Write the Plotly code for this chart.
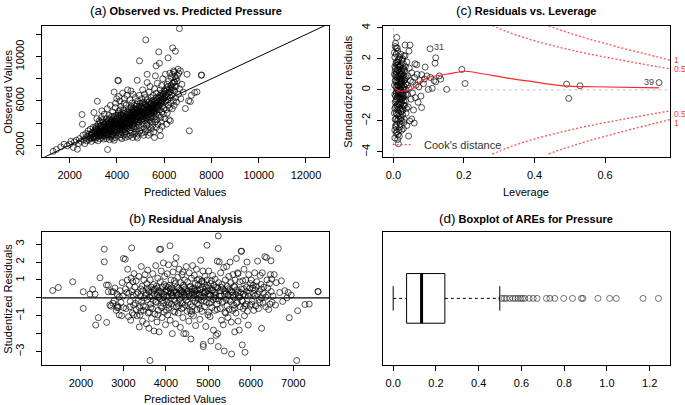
import plotly.graph_objects as go

FONT = "Liberation Sans, Arial, Helvetica, sans-serif"
W, H = 685, 405

# ---------------- Panel (a): Observed vs. Predicted (predicted, observed) ----------------
obs_pred_pairs = [
    (1300,1450),(1440,1620),(1620,1850),(1760,2090),(1900,1950),(2000,2090),(2050,2350),(2150,1800),
    (2200,2300),(2283,2452),(2325,1639),(2380,2150),(2420,2600),(2480,2350),(2520,4770),(2536,3895),
    (2560,2900),(2600,2500),(2640,2150),(2680,3050),(2700,2700),(2720,2400),
    (2760,2800),(2780,3300),(2800,2500),(2820,3000),(2850,2700),(2870,3450),(2900,2900),(2920,2350),
    (2950,3150),(2970,2650),(2990,3600),(3026,4951),(3000,2750),(2940,3050),(2880,2600),
    (3050,2900),(3060,3300),(3080,2500),(3100,3700),(3120,3000),(3140,2700),(3168,5971),(3160,3400),
    (3180,3100),(3200,2400),(3210,3900),(3230,2850),(3240,3250),(3250,4200),(3100,3500),(3150,4400),
    (3220,3550),(3070,3150),
    (3270,2600),(3280,3050),(3300,3400),(3310,2900),(3320,3800),(3340,4500),(3350,3200),(3360,2700),
    (3380,3600),(3400,4100),(3410,3000),(3420,3350),(3440,2550),(3450,3900),(3460,4800),(3470,3150),
    (3480,2800),(3490,3500),(3300,4100),(3360,5100),(3430,3700),(3380,4300),
    (3510,3250),(3520,4000),(3530,2900),(3540,3600),(3550,4400),(3560,2600),(3570,3100),(3580,3800),
    (3590,5300),(3604,1612),(3600,3450),(3620,4200),(3630,2800),(3640,3700),(3650,3300),(3660,4700),
    (3670,3000),(3680,3950),(3690,2500),(3700,3550),(3710,4300),(3720,5600),(3730,3200),(3740,3850),
    (3750,2750),
    (3760,3400),(3770,4100),(3780,4600),(3790,3000),(3800,3700),(3810,2600),(3820,5000),(3830,3300),
    (3840,3900),(3850,4400),(3860,2900),(3870,3550),(3880,6800),(3890,4200),(3900,3150),(3910,3800),
    (3920,5400),(3930,2700),(3940,4000),(3950,3450),(3960,4700),(3970,3100),(3980,3650),(3990,6200),
    (3800,4250),(3880,2450),(3940,5800),(3850,3200),
    (4010,3900),(4020,3300),(4038,7866),(4060,7820),(4030,4500),(4060,2900),(4070,3600),(4080,5100),
    (4090,4200),(4100,3100),(4110,3750),(4120,6000),(4130,4400),(4140,2700),(4150,3450),(4160,4800),
    (4170,3950),(4180,5500),(4190,3200),(4200,4100),(4210,2600),(4220,3700),(4230,4600),(4240,6700),
    (4250,3350),(4060,4700),(4140,5200),(4200,3850),(4080,6400),(4170,2950),
    (4260,4300),(4270,3800),(4280,5200),(4290,2900),(4300,4000),(4310,3500),(4320,6200),(4330,4600),
    (4340,3200),(4350,4900),(4360,2700),(4370,3900),(4380,5600),(4390,4200),(4400,3600),(4410,4500),
    (4420,3000),(4430,5000),(4440,4100),(4450,7000),(4460,3700),(4470,4700),(4480,2800),(4490,5300),
    (4500,4300),(4300,5800),(4350,3400),(4420,6500),(4460,4000),(4280,4550),
    (4510,3900),(4520,5000),(4530,3300),(4540,4600),(4550,6100),(4560,2900),(4570,4200),(4580,5400),
    (4590,3600),(4600,4800),(4610,3100),(4620,4400),(4630,5800),(4640,3800),(4650,5100),(4660,2700),
    (4670,4500),(4680,6600),(4690,4000),(4700,5300),(4710,3500),(4720,4700),(4730,3000),(4740,5600),
    (4750,4300),(4550,4000),(4600,5500),(4650,4200),(4700,3700),(4590,6900),
    (4760,5000),(4770,3700),(4780,6300),(4790,4400),(4800,3200),(4810,5200),(4820,4600),(4830,2800),
    (4840,5700),(4857,7866),(4850,4100),(4860,3500),(4870,4900),(4880,6000),(4890,4300),(4900,3000),
    (4910,5400),(4920,4700),(4930,3800),(4940,6500),(4954,9617),(4950,4500),(4960,5100),(4970,3300),
    (4980,5800),(4990,4200),(4800,5500),(4870,2650),(4930,5000),(4780,4800),
    (5010,4800),(5020,3600),(5030,5500),(5040,4300),(5050,6200),(5060,3100),(5070,5000),(5080,4600),
    (5090,7000),(5100,3900),(5110,5300),(5120,4400),(5130,2900),(5140,5900),(5150,4900),(5160,3500),
    (5170,6600),(5180,4200),(5190,5100),(5200,3200),(5220,11513),(5230,5600),(5240,4500),(5250,3800),
    (5278,8408),(5278,7660),(5060,5800),(5200,6300),
    (5260,5000),(5270,4000),(5290,6100),(5300,3400),(5310,5400),(5320,4700),(5330,2900),(5340,5900),
    (5350,4300),(5360,6800),(5370,3700),(5380,5200),(5390,4500),(5400,7300),(5410,3100),(5420,5700),
    (5430,4900),(5440,6300),(5450,4100),(5460,3500),(5470,5300),(5480,4700),(5490,6000),(5350,5000),
    (5450,5500),
    (5510,5100),(5520,3800),(5530,6500),(5540,4400),(5550,5600),(5560,3200),(5570,4900),(5586,2695),
    (5590,7100),(5600,5300),(5610,4100),(5620,6000),(5628,8263),(5640,4600),(5650,5500),(5658,9166),
    (5660,3600),(5670,6700),(5680,4900),(5690,5800),(5700,4300),(5710,7600),(5720,5200),(5730,3900),
    (5740,6300),
    (5760,5500),(5770,10430),(5780,4700),(5798,9400),(5800,6000),(5810,3400),(5820,5200),(5830,7000),
    (5840,2848),(5850,4500),(5860,6400),(5870,5800),(5880,4100),(5890,7400),(5900,5000),(5910,3700),
    (5920,6200),(5930,5500),(5940,8000),(5960,4800),(5980,6700),(5990,5300),
    (6010,5900),(6030,4400),(6050,8408),(6060,6500),(6080,5200),(6100,7200),(6122,7506),(6130,4900),
    (6150,6100),(6164,9888),(6170,5600),(6190,7800),(6200,4300),(6210,6800),(6230,5400),(6240,8500),
    (6250,6300),(6100,3900),
    (6262,4200),(6280,5800),(6300,7000),(6320,6500),(6340,5300),(6359,10790),(6370,7600),(6390,6000),
    (6400,8710),(6420,5600),(6440,6900),(6460,8200),(6473,10484),(6480,6300),(6500,7300),
    (6350,8400),(6420,8600),(6500,8000),(6560,8300),(6620,8500),(6300,8100),(6450,7700),
    (6520,5900),(6550,7800),(6586,8860),(6600,6600),(6642,12533),(6650,7100),(6684,8710),(6700,6200),
    (6750,7500),(6800,6800),(6895,5312),(6966,8408),(7034,6007),(7063,3300),
    (7105,5944),(7150,6500),(7287,6757),(7388,6817),(7583,8318),(7570,8340),
]
obs_pred_core = [
    (3020,3100),(3040,2650),(3090,3350),(3110,2800),(3130,3600),(3190,2950),(3215,3300),(3260,3000),
    (3290,3700),(3330,3100),(3370,3450),(3395,2850),(3445,3250),(3475,3850),(3495,3050),
    (3515,3700),(3535,3350),(3555,3000),(3575,4100),(3595,3550),(3615,2950),(3635,3900),(3655,3500),
    (3675,4400),(3695,3250),(3715,3750),(3735,4050),(3755,3550),(3775,2900),(3795,4300),(3815,3550),
    (3835,4000),(3855,3700),(3875,4600),(3895,3400),(3915,4150),(3935,3650),(3955,4350),(3975,3900),
    (3995,3300),
    (4015,4200),(4035,3600),(4055,4900),(4075,3900),(4095,4500),(4115,3400),(4135,4100),(4155,3800),
    (4175,4700),(4195,3600),(4215,4300),(4235,4000),(4255,4900),(4275,3550),(4295,4400),(4315,4100),
    (4335,3700),(4355,4500),(4375,4250),(4395,3900),(4415,4800),(4435,3500),(4455,4350),(4475,4050),
    (4495,4700),
    (4515,4450),(4535,3800),(4555,4900),(4575,4600),(4595,4100),(4615,5200),(4635,4300),(4655,4750),
    (4675,3900),(4695,4550),(4715,5000),(4735,4150),(4755,4800),(4775,5300),(4795,4200),(4815,4900),
    (4835,4450),(4855,5200),(4875,4600),(4895,5000),(4915,4100),(4935,5500),(4955,4750),(4975,5200),
    (4995,4550),
    (5015,5100),(5035,4700),(5055,5400),(5075,4400),(5095,4900),(5115,5600),(5135,4600),(5155,5300),
    (5175,4800),(5195,5700),(5215,4700),(5235,5200),(5255,4400),(5275,5500),(5295,5000),(5315,4600),
    (5335,5300),(5355,5700),(5375,4800),(5395,5400),(5415,5100),(5435,4500),(5455,5900),(5475,5000),
    (5495,5400),
    (5515,5700),(5535,5200),(5555,5000),(5575,6100),(5595,5500),(5615,5100),(5635,5800),(5655,6300),
    (5675,5300),(5695,5600),(5715,6100),(5735,5500),(5755,5900),(5775,6300),(5795,5600),(5815,6500),
    (5835,5800),(5855,6100),(5875,6700),(5895,5900),(5915,6400),(5935,6000),(5955,6600),(5975,6200),
    (5995,6900),(6020,6300),(6040,6900),(6070,6000),(6090,6600),(6110,7000),(6140,6400),(6160,7300),
    (6180,6700),(6220,7100),(6260,6800),(6290,7400),(6330,7200),(6380,7000),(6410,7700),(6450,7300),
]
identity_line = [800, 13000]

# ---------------- Panel (b): Studentized residuals vs predicted ----------------
stud_resid_pairs = [
    (1334,0.41),(1466,0.58),(1805,0.90),(2054,0.34),(2054,-0.59),(2212,0.21),(2276,0.47),(2330,0.21),
    (2346,-1.52),(2408,-1.11),(2448,1.12),(2549,2.72),(2549,2.01),(2605,-1.37),(2643,0.71),(2643,0.34),
    (2600,0.72),(2680,-0.40),
    (2707,-0.46),(2720,0.34),(2760,0.34),(2780,-0.15),(2800,0.55),(2830,-0.70),(2850,0.20),(2879,-0.53),
    (2900,-0.95),(2920,0.40),(2940,-0.25),(2958,-1.0),(2970,0.85),(2990,0.10),(3000,2.2),(2860,-0.45),
    (2750,-0.30),(2900,0.05),
    (3043,2.16),(3060,-0.60),(3080,0.30),(3100,1.6),(3120,-1.05),(3140,0.70),(3160,-0.20),(3180,1.1),
    (3194,2.79),(3200,0.35),(3210,-0.85),(3220,0.90),(3240,-0.40),(3250,1.35),(3050,0.50),(3130,0.25),
    (3170,-1.25),(3230,0.15),(3090,1.0),(3240,-0.95),
    (3270,0.60),(3280,-0.30),(3300,0.95),(3320,-1.0),(3340,0.30),(3373,-1.63),(3360,1.2),(3380,-0.55),
    (3390,-0.96),(3400,0.10),(3420,1.75),(3430,-0.20),(3440,0.65),(3450,-1.30),(3460,0.40),(3470,-0.70),
    (3480,1.0),(3490,0.0),(3300,0.20),(3350,-0.15),(3410,0.50),(3470,-0.45),
    (3510,1.3),(3520,-0.50),(3530,0.25),(3540,-1.45),(3550,0.80),(3560,-0.10),(3570,1.55),(3580,-0.85),
    (3590,0.45),(3600,-1.7),(3625,-3.5),(3620,0.05),(3630,1.0),(3640,-0.35),(3650,0.60),(3660,-1.15),
    (3670,0.30),(3680,-0.60),(3690,1.35),(3700,-0.15),(3710,0.75),(3720,-1.85),(3730,0.20),(3740,-0.90),
    (3750,0.50),
    (3760,1.8),(3770,-0.25),(3780,0.65),(3790,-1.35),(3800,0.15),(3810,1.1),(3820,-0.70),(3830,0.40),
    (3840,-1.9),(3850,2.7),(3860,-0.05),(3870,0.90),(3877,2.72),(3880,-0.45),(3890,1.5),(3900,0.25),
    (3910,-1.1),(3920,0.60),(3930,-0.30),(3940,1.95),(3950,0.05),(3960,-0.80),(3970,1.2),(3980,0.35),
    (3990,-1.5),(3820,0.30),(3900,-0.55),(3960,0.75),
    (4010,0.45),(4020,-0.20),(4030,1.35),(4040,-0.95),(4050,0.10),(4060,1.85),(4070,-0.55),(4080,0.70),
    (4096,2.91),(4100,-1.25),(4110,0.25),(4120,1.0),(4130,-0.35),(4140,0.55),(4150,-2.0),(4160,0.15),
    (4170,1.45),(4180,-0.75),(4190,0.40),(4200,-0.10),(4210,1.9),(4220,0.80),(4230,-1.45),(4240,0.30),
    (4250,-0.50),(4050,0.60),(4130,0.30),(4200,0.95),(4080,-0.30),(4240,2.25),
    (4260,0.60),(4270,-0.30),(4280,1.15),(4290,-0.85),(4300,0.20),(4310,1.6),(4320,-0.10),(4330,0.45),
    (4340,-1.65),(4350,0.85),(4360,0.05),(4370,-0.60),(4380,1.3),(4390,0.35),(4400,-1.1),(4410,0.70),
    (4420,-2.0),(4430,0.15),(4440,1.0),(4450,-0.40),(4460,0.50),(4470,-2.0),(4480,1.75),(4490,0.25),
    (4500,-0.75),(4300,-0.45),(4360,0.40),(4420,0.25),(4480,-0.15),(4400,1.45),
    (4510,0.90),(4520,-0.25),(4530,0.40),(4540,-1.3),(4550,1.4),(4560,0.10),(4570,-0.70),(4580,0.65),
    (4590,-2.3),(4600,1.1),(4610,0.30),(4620,-0.50),(4630,1.8),(4640,0.00),(4650,-1.0),(4660,0.55),
    (4670,1.25),(4680,-0.20),(4690,0.80),(4700,-1.55),(4710,0.20),(4720,1.6),(4730,-0.65),(4740,0.45),
    (4750,-0.05),(4560,0.60),(4620,0.20),(4680,0.35),(4740,1.0),(4600,-0.90),
    (4760,0.70),(4770,-0.40),(4780,1.05),(4790,0.15),(4800,-1.2),(4810,0.50),(4820,2.1),(4830,-0.15),
    (4840,0.90),(4850,-0.75),(4860,0.30),(4870,1.5),(4880,-2.6),(4890,0.05),(4900,0.80),(4910,-0.50),
    (4920,1.2),(4930,0.35),(4940,-1.6),(4950,0.60),(4967,2.94),(4960,-0.25),(4970,1.0),(4980,0.20),
    (4990,-0.95),(4880,-2.72),(4800,0.45),(4900,0.25),(4850,0.95),(4990,0.40),
    (5010,1.5),(5020,-0.30),(5030,0.55),(5040,-1.05),(5050,0.15),(5060,-2.41),(5070,0.95),(5080,-0.55),
    (5090,0.40),(5100,1.25),(5110,-0.10),(5120,-1.8),(5130,0.70),(5140,0.05),(5150,-0.70),(5160,1.05),
    (5170,0.30),(5180,-2.1),(5190,0.60),(5200,-0.35),(5210,2.05),(5220,-2.0),(5233,3.46),(5233,-2.72),
    (5240,0.85),(5250,-0.15),(5050,0.80),(5160,0.15),
    (5257,2.01),(5270,0.40),(5280,-0.60),(5290,1.4),(5300,0.10),(5310,-1.25),(5320,0.75),(5330,-0.25),
    (5340,0.50),(5350,-1.5),(5360,1.7),(5374,-2.97),(5380,0.20),(5390,-0.80),(5400,1.0),(5410,0.35),
    (5420,-0.10),(5430,1.75),(5440,-0.45),(5450,0.65),(5460,-1.1),(5470,0.15),(5480,1.2),(5490,-0.65),
    (5500,0.45),
    (5510,2.0),(5520,-0.20),(5530,0.85),(5540,-1.35),(5548,-3.14),(5560,0.30),(5570,-0.70),(5580,1.3),
    (5590,0.05),(5600,-0.40),(5610,0.65),(5620,-1.9),(5630,1.0),(5640,0.20),(5650,-0.85),(5660,2.2),
    (5670,0.45),(5680,-0.25),(5690,1.4),(5700,-1.3),(5710,0.10),(5728,-1.80),(5740,0.90),(5750,-0.50),
    (5700,1.35),
    (5760,0.30),(5770,2.6),(5784,2.61),(5790,-0.15),(5798,-2.63),(5810,0.95),(5820,-0.60),(5830,0.50),
    (5840,1.6),(5850,-1.0),(5862,-3.04),(5870,0.15),(5880,1.0),(5890,-0.35),(5900,0.60),(5910,2.0),
    (5920,-0.75),(5940,-1.52),(5950,1.3),(5960,0.25),(5980,-0.40),(5990,0.80),
    (6010,1.0),(6030,-0.20),(6050,0.55),(6070,-0.70),(6090,1.4),(6100,0.10),(6120,-0.45),(6140,0.90),
    (6160,2.05),(6180,-0.60),(6200,0.35),(6220,1.25),(6240,0.75),(6254,-1.70),(6250,0.00),(6130,0.65),
    (6060,0.25),(6210,-0.25),
    (6270,1.4),(6290,-0.30),(6310,0.60),(6330,2.3),(6350,-0.50),(6367,2.25),(6380,1.0),(6400,0.15),
    (6420,-0.65),(6440,0.80),(6460,1.3),(6474,2.07),(6480,0.35),(6500,-0.25),(6490,1.05),
    (6520,0.10),(6550,1.3),(6580,-0.40),(6600,0.85),(6646,2.76),(6680,0.30),(6720,0.95),(6750,-0.20),
    (6800,0.40),(6850,0.00),(6880,0.30),(6905,-1.11),(6950,0.15),(7063,0.71),(7080,-3.5),
    (7102,-0.72),(7275,-0.37),(7375,-0.35),(7587,0.34),(7580,0.36),
]
stud_resid_core = [
    (3520,0.15),(3560,0.55),(3600,0.35),(3640,-0.55),(3680,0.10),(3720,0.45),(3760,-0.20),(3800,0.55),
    (3840,0.05),(3880,0.35),(3920,-0.15),(3960,0.20),(4000,0.65),(4020,0.05),(4040,0.35),(4060,-0.40),
    (4100,0.50),(4140,0.10),(4180,0.30),(4220,-0.20),(4260,0.15),(4300,0.55),(4340,0.25),(4380,-0.30),
    (4420,0.60),(4460,0.05),(4500,0.35),(4540,0.20),(4580,-0.35),(4620,0.50),(4660,0.15),(4700,0.40),
    (4740,-0.30),(4780,0.25),(4820,0.05),(4860,0.60),(4900,-0.15),(4940,0.30),(4980,0.70),(5020,0.20),
    (5060,-0.25),(5100,0.45),(5140,0.30),(5180,-0.05),(5220,0.55),(5260,0.10),(5300,0.60),(5340,-0.20),
    (5380,0.40),(5420,0.25),(5460,0.50),(5500,-0.10),(5540,0.35),(5580,0.15),(5620,0.60),(5660,-0.30),
    (5700,0.30),(5740,0.05),(5780,0.50),(5820,0.20),(5860,-0.45),(5900,0.35),(5940,0.10),(5980,0.55),
    (6020,-0.35),(6060,0.70),(6100,0.45),(6150,0.20),(6200,-0.10),(6250,0.50),(6300,0.25),(6350,0.05),
    (6400,0.55),(6450,-0.35),(4010,-0.70),(4210,-0.80),(4410,-0.55),(4610,-0.75),(4810,-0.60),
    (5010,-0.80),(5210,-0.65),(5410,-0.85),(5610,-0.60),(5810,-0.20),(3410,-0.75),(3610,-0.80),
    (3810,-0.95),(3300,-0.65),(3150,-0.50),(3000,-0.55),(2850,-0.55),
]

# ---------------- Panel (c): Residuals vs. Leverage ----------------
lev_resid_pairs = [
    (0.004,2.1),(0.006,1.4),(0.005,0.6),(0.004,-0.3),(0.006,-1.1),(0.005,-1.9),(0.004,-2.6),(0.007,0.2),
    (0.008,1.0),(0.007,-0.7),(0.008,-1.5),(0.009,1.8),(0.009,-0.1),(0.010,0.8),(0.010,-2.2),(0.011,1.3),
    (0.011,-0.5),(0.012,2.5),(0.012,0.3),(0.012,-1.3),(0.013,-2.9),(0.013,1.6),(0.014,-0.2),(0.014,0.9),
    (0.015,-0.9),(0.015,2.0),(0.016,0.5),(0.016,-1.7),(0.017,1.1),(0.017,-0.4),(0.018,-2.4),(0.018,0.1),
    (0.019,1.5),(0.019,-1.0),(0.020,0.7),(0.020,-0.6),(0.021,2.3),(0.021,-1.4),(0.022,0.0),(0.022,1.2),
    (0.023,-0.8),(0.023,-2.0),(0.024,0.4),(0.024,1.9),(0.025,-0.3),(0.025,-1.2),(0.003,1.0),(0.003,-1.5),
    (0.005,2.8),(0.006,-2.3),(0.007,1.7),(0.008,-0.2),(0.009,0.5),(0.010,-1.0),(0.011,2.7),(0.012,-0.9),
    (0.013,0.6),(0.014,-1.9),(0.015,1.3),(0.016,-0.1),(0.017,-3.0),(0.018,0.9),(0.019,-0.5),(0.020,1.6),
    (0.021,0.2),(0.022,-1.8),(0.023,1.0),(0.024,-0.6),(0.026,0.8),(0.026,-1.6),(0.027,1.4),(0.027,-0.2),
    (0.028,0.3),(0.028,-2.5),(0.029,2.2),(0.029,-1.0),(0.030,0.6),(0.030,-0.4),
    (0.0096,3.38),(0.033,2.89),(0.047,2.89),(0.014,-3.47),(0.043,-2.98),(0.052,-1.88),(0.059,-2.14),
    (0.080,-1.14),(0.099,0.03),(0.151,0.03),(0.104,2.65),(0.120,2.07),(0.118,1.72),(0.120,0.52),
    (0.130,0.90),(0.134,0.69),(0.203,0.41),(0.194,1.32),(0.061,1.68),(0.090,1.47),(0.066,1.62),
    (0.080,0.98),(0.491,0.37),(0.497,-0.55),(0.529,0.26),(0.753,0.47),
    (0.032,1.2),(0.034,-0.7),(0.035,0.4),(0.036,-1.5),(0.038,1.8),(0.040,-0.3),(0.041,0.9),(0.042,-1.1),
    (0.044,0.1),(0.045,1.4),(0.046,-2.0),(0.048,0.6),(0.050,-0.6),(0.052,1.1),(0.054,-0.2),(0.055,0.5),
    (0.057,-1.3),(0.060,0.8),(0.062,-0.5),(0.064,0.3),(0.067,1.0),(0.070,-0.8),(0.072,0.2),(0.075,0.6),
    (0.078,-0.4),(0.085,0.4),(0.088,0.7),(0.095,0.9),(0.105,0.8),(0.110,0.1),(0.115,0.6),(0.038,-2.3),
    (0.033,2.2),(0.044,2.5),(0.036,0.0),(0.031,-1.9),
]
lev_resid_core = [
    (0.003,0.3),(0.004,1.5),(0.005,-0.8),(0.006,0.9),(0.007,-1.9),(0.008,2.3),(0.009,-0.6),(0.010,1.6),
    (0.011,-1.6),(0.012,0.0),(0.013,-0.4),(0.014,1.9),(0.015,0.2),(0.016,-2.6),(0.017,0.7),(0.018,-1.2),
    (0.019,0.4),(0.020,-1.9),(0.021,1.0),(0.022,-0.3),(0.023,0.5),(0.024,-1.4),(0.025,1.1),(0.026,-0.5),
    (0.027,0.1),(0.028,1.7),(0.029,-0.7),(0.030,1.3),(0.031,0.2),(0.032,-1.0),(0.033,0.7),(0.034,1.5),
    (0.035,-0.3),(0.036,0.8),(0.037,-1.2),(0.039,0.3),(0.003,2.4),(0.004,-1.2),(0.005,1.2),(0.006,-0.4),
    (0.007,0.6),(0.008,-2.8),(0.009,1.1),(0.010,0.2),(0.011,-2.0),(0.012,1.8),(0.013,-1.1),(0.014,0.3),
    (0.015,-1.5),(0.016,1.5),(0.017,0.0),(0.018,2.1),(0.019,-2.2),(0.020,0.0),(0.021,-0.9),(0.022,0.6),
    (0.023,-2.6),(0.024,1.3),(0.025,0.7),(0.026,2.0),(0.027,-1.3),(0.028,-0.5),(0.029,0.9),(0.030,-2.1),
    (0.006,3.0),(0.008,2.7),(0.004,-3.1),(0.010,-2.7),(0.007,-2.4),(0.012,-3.2),
]
loess_lev = [0.003, 0.012, 0.020, 0.035, 0.052, 0.076, 0.104, 0.161, 0.203, 0.321, 0.482, 0.567, 0.753]
loess_res = [0.14, -0.02, -0.08, -0.04, 0.04, 0.52, 0.83, 1.05, 1.20, 0.77, 0.26, 0.20, 0.13]
cook05_lev = [0.28, 0.32, 0.36, 0.40, 0.45, 0.50, 0.55, 0.60, 0.65, 0.70, 0.75, 0.784]
cook05_res = [4.15, 3.77, 3.45, 3.17, 2.86, 2.59, 2.34, 2.11, 1.90, 1.69, 1.49, 1.36]
cook1_lev = [0.44, 0.48, 0.52, 0.56, 0.60, 0.65, 0.70, 0.75, 0.784]
cook1_res = [4.13, 3.81, 3.52, 3.24, 2.99, 2.69, 2.40, 2.11, 1.92]

# ---------------- Panel (d): Boxplot of AREs ----------------
are_lower, are_q1, are_median, are_q3, are_upper = 0.0, 0.0626, 0.1328, 0.2417, 0.4988
are_outliers = [0.508, 0.52, 0.53, 0.546, 0.561, 0.572, 0.584, 0.596, 0.605, 0.616, 0.636,
                0.655, 0.673, 0.717, 0.733, 0.756, 0.798, 0.839, 0.881, 0.888, 0.958,
                1.013, 1.044, 1.169, 1.241]

# ---------------- helpers ----------------
def px(x):
    return x / W

def py(y):
    return 1 - y / H

PT_COLOR = "rgba(0,0,0,0.75)"

def pts(pairs, xa, ya):
    xs = [p[0] for p in pairs]
    ys = [p[1] for p in pairs]
    return go.Scatter(x=xs, y=ys, mode="markers", xaxis=xa, yaxis=ya,
                      marker=dict(symbol="circle-open", size=6, color=PT_COLOR,
                                  line=dict(width=0.9, color=PT_COLOR)),
                      showlegend=False, hoverinfo="skip")

fig = go.Figure()

RED = "rgba(255,50,50,0.85)"

# (a)
fig.add_trace(pts(obs_pred_pairs, "x", "y"))
fig.add_trace(pts(obs_pred_core, "x", "y"))
fig.add_trace(go.Scatter(x=identity_line, y=identity_line, mode="lines", xaxis="x", yaxis="y",
                         line=dict(color="black", width=1), showlegend=False, hoverinfo="skip"))
# (c)
fig.add_trace(pts(lev_resid_pairs, "x2", "y2"))
fig.add_trace(pts(lev_resid_core, "x2", "y2"))
fig.add_trace(go.Scatter(x=loess_lev, y=loess_res, mode="lines", xaxis="x2", yaxis="y2",
                         line=dict(color="rgb(255,40,40)", width=1.2, shape="spline", smoothing=0.6),
                         showlegend=False, hoverinfo="skip"))
for lv, rs in ((cook05_lev, cook05_res), (cook1_lev, cook1_res)):
    for sgn in (1, -1):
        fig.add_trace(go.Scatter(x=lv, y=[sgn * r for r in rs], mode="lines", xaxis="x2", yaxis="y2",
                                 line=dict(color=RED, width=1.3, dash="2px,2px", shape="spline"),
                                 showlegend=False, hoverinfo="skip"))
# (b)
fig.add_trace(pts(stud_resid_pairs, "x3", "y3"))
fig.add_trace(pts(stud_resid_core, "x3", "y3"))
# (d)
BH = 0.187
SH = 0.092
box_line = dict(color="black", width=1)
fig.add_trace(go.Scatter(x=[are_q1, are_q3, are_q3, are_q1, are_q1],
                         y=[1 - BH, 1 - BH, 1 + BH, 1 + BH, 1 - BH], mode="lines",
                         xaxis="x4", yaxis="y4", line=box_line, showlegend=False, hoverinfo="skip"))
fig.add_trace(go.Scatter(x=[are_median, are_median], y=[1 - BH, 1 + BH], mode="lines",
                         xaxis="x4", yaxis="y4", line=dict(color="black", width=3),
                         showlegend=False, hoverinfo="skip"))
for a, b in ((are_lower, are_q1), (are_q3, are_upper)):
    fig.add_trace(go.Scatter(x=[a, b], y=[1, 1], mode="lines", xaxis="x4", yaxis="y4",
                             line=dict(color="black", width=1, dash="3px,3px"),
                             showlegend=False, hoverinfo="skip"))
for s in (are_lower, are_upper):
    fig.add_trace(go.Scatter(x=[s, s], y=[1 - SH, 1 + SH], mode="lines", xaxis="x4", yaxis="y4",
                             line=box_line, showlegend=False, hoverinfo="skip"))
fig.add_trace(go.Scatter(x=are_outliers, y=[1] * len(are_outliers), mode="markers",
                         xaxis="x4", yaxis="y4",
                         marker=dict(symbol="circle-open", size=6, color="rgba(0,0,0,0.6)",
                                     line=dict(width=0.9, color="rgba(0,0,0,0.6)")),
                         showlegend=False, hoverinfo="skip"))

# ---------------- axes ----------------
XL, XR = px(42.3), px(329)
CL, CR = px(382.6), px(670)
TB, TT = py(155), py(23)
BB, BT = py(364.5), py(230.7)

common = dict(showline=True, mirror=True, linecolor="black", linewidth=1, showgrid=False,
              zeroline=False, ticks="outside", ticklen=5, tickwidth=1, tickcolor="black",
              tickfont=dict(family=FONT, size=11, color="black"))

def xax(dom, rng, vals, texts, anchor):
    d = dict(common)
    d.update(domain=dom, range=rng, tickmode="array", tickvals=vals, ticktext=texts,
             anchor=anchor, ticklabelstandoff=3)
    return d

def yax(dom, rng, vals, texts, anchor, standoff):
    d = dict(common)
    d.update(domain=dom, range=rng, tickmode="array", tickvals=vals, ticktext=texts,
             anchor=anchor, tickangle=-90, ticklabelstandoff=standoff)
    return d

a_xt = [2000, 4000, 6000, 8000, 10000, 12000]
a_yt = [2000, 4000, 6000, 8000, 10000, 12000]
c_xt = [0.0, 0.2, 0.4, 0.6]
c_yt = [-4, -2, 0, 2, 4]
b_xt = [2000, 3000, 4000, 5000, 6000, 7000]
b_yt = [-3, -2, -1, 0, 1, 2, 3]
d_xt = [0.0, 0.2, 0.4, 0.6, 0.8, 1.0, 1.2]

layout_axes = dict(
    xaxis=xax([XL, XR], [840, 12975], a_xt, [str(v) for v in a_xt], "y"),
    yaxis=yax([TB, TT], [952, 12780], a_yt, ["2000", "", "6000", "", "10000", ""], "x", 8),
    xaxis2=xax([CL, CR], [-0.0306, 0.784], c_xt, ["0.0", "0.2", "0.4", "0.6"], "y2"),
    yaxis2=yax([TB, TT], [-4.32, 4.13], c_yt, ["\u22124", "\u22122", "0", "2", "4"], "x2", 2),
    xaxis3=xax([XL, XR], [1089, 7841], b_xt, [str(v) for v in b_xt], "y3"),
    yaxis3=yax([BB, BT], [-3.74, 3.68], b_yt, ["\u22123", "", "\u22121", "", "1", "2", "3"], "x3", 8),
    xaxis4=xax([CL, CR], [-0.0496, 1.2953], d_xt, ["0.0", "0.2", "0.4", "0.6", "0.8", "1.0", "1.2"], "y4"),
)
y4 = dict(common)
y4.update(domain=[BB, BT], range=[0.5, 1.5], anchor="x4", ticks="", showticklabels=False)
layout_axes["yaxis4"] = y4

# ---------------- annotations ----------------
ann = []

def add_text(text, x, y, size=11, angle=0, xanchor="center", color="black"):
    ann.append(dict(text=text, x=px(x), y=py(y), xref="paper", yref="paper", showarrow=False,
                    xanchor=xanchor, yanchor="middle", textangle=angle,
                    font=dict(family=FONT, size=size, color=color)))

def title(letter, body, x, y):
    add_text("<span style='font-size:13.5px'>(%s)</span> <b>%s</b>" % (letter, body), x, y, size=11)

title("a", "Observed vs. Predicted Pressure", 185.6, 8)
title("c", "Residuals vs. Leverage", 526.3, 8)
title("b", "Residual Analysis", 185.6, 217.5)
title("d", "Boxplot of AREs for Pressure", 526.3, 217.5)

add_text("Predicted Values", 185.6, 190.7)
add_text("Observed Values", 8.3, 89, angle=-90)
add_text("Leverage", 526.3, 190.7)
add_text("Standardized residuals", 348.3, 89, angle=-90)
add_text("Predicted Values", 185.6, 399.3)
add_text("Studentized Residuals", 8.3, 297.6, angle=-90)

# Cook's distance legend + contour labels
add_text("Cook's distance", 421.5, 142.7, size=11, xanchor="left", color="#333333")
add_text("1", 672, 57.3, size=8.5, xanchor="left", color="rgb(255,60,60)")
add_text("0.5", 672, 66.7, size=8.5, xanchor="left", color="rgb(255,60,60)")
add_text("0.5", 672, 111.5, size=8.5, xanchor="left", color="rgb(255,60,60)")
add_text("1", 672, 120.5, size=8.5, xanchor="left", color="rgb(255,60,60)")

# point id labels (data coordinates)
ann.append(dict(text="31", x=0.109, y=2.75, xref="x2", yref="y2", showarrow=False,
                xanchor="left", yanchor="middle", font=dict(family=FONT, size=9, color="#444444")))
ann.append(dict(text="39", x=0.743, y=0.5, xref="x2", yref="y2", showarrow=False,
                xanchor="right", yanchor="middle", font=dict(family=FONT, size=9, color="#444444")))

shapes = [
    dict(type="line", xref="x3 domain", yref="y3", x0=0, x1=1, y0=0, y1=0,
         line=dict(color="black", width=1.2)),
    dict(type="line", xref="x2 domain", yref="y2", x0=0, x1=1, y0=0, y1=0,
         line=dict(color="#c0c0c0", width=1, dash="dot"), layer="below"),
    dict(type="line", xref="x2", yref="y2 domain", x0=0, x1=0, y0=0, y1=1,
         line=dict(color="#c0c0c0", width=1, dash="dot"), layer="below"),
    dict(type="line", xref="paper", yref="paper", x0=px(392.7), x1=px(411.7),
         y0=py(142.7), y1=py(142.7), line=dict(color=RED, width=1.3, dash="2px,2px")),
]

fig.update_layout(
    width=W, height=H, margin=dict(l=0, r=0, t=0, b=0),
    paper_bgcolor="white", plot_bgcolor="white",
    font=dict(family=FONT, size=11, color="black"),
    annotations=ann, shapes=shapes, showlegend=False,
    **layout_axes,
)

fig.write_html("out.html", config={"displayModeBar": False},
               post_script="document.body.style.margin='0';document.body.style.padding='0';"
                           "document.body.style.overflow='hidden';")
